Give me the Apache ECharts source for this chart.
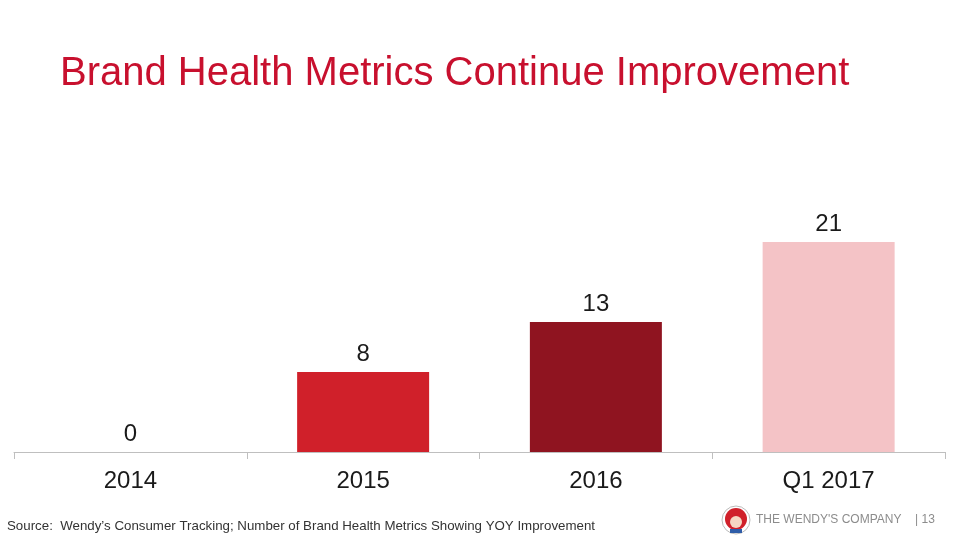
<!DOCTYPE html>
<html><head><meta charset="utf-8">
<script src="https://cdn.jsdelivr.net/npm/echarts@6/dist/echarts.min.js"></script>
<style>html,body{margin:0;padding:0;background:#fff}#c{width:960px;height:540px}</style>
</head><body><div id="c"></div>
<script>
const categories = ['2014', '2015', '2016', 'Q1 2017'];
const values = [0, 8, 13, 21];
const barColors = ['#D0202A', '#D0202A', '#8F1420', '#F4C3C6'];
const titleText = 'Brand Health Metrics Continue Improvement';
const sourceText = 'Source:  Wendy\u2019s Consumer Tracking; Number of Brand Health Metrics Showing YOY Improvement';
const footerText = 'THE WENDY\'S COMPANY';
const pageNum = '| 13';

const chart = echarts.init(document.getElementById('c'), null, {renderer: 'canvas'});
const font = '"Liberation Sans", Arial, sans-serif';
chart.setOption({
  animation: false,
  title: {
    text: titleText, left: 55, top: 49,
    textStyle: {color: '#C8102E', fontSize: 40, fontWeight: 'normal', fontFamily: font}
  },
  grid: {left: 14, right: 15, top: 152, bottom: 88},
  xAxis: {
    type: 'category', data: categories,
    axisLine: {show: true, lineStyle: {color: '#BFBFBF', width: 1}},
    axisTick: {show: true, length: 7, lineStyle: {color: '#BFBFBF'}},
    axisLabel: {color: '#1a1a1a', fontSize: 24, fontFamily: font, margin: 17}
  },
  yAxis: {type: 'value', min: 0, max: 30, show: false, splitLine: {show: false}},
  series: [{
    type: 'bar', barWidth: 132,
    data: values.map((v, i) => ({value: v, itemStyle: {color: barColors[i]}})),
    label: {show: true, position: 'top', distance: 6, color: '#1a1a1a', fontSize: 24, fontFamily: font}
  }],
  graphic: [
    {type: 'text', left: 7, top: 520, style: {text: sourceText, fill: '#333', font: '13.3px ' + font}},
    {type: 'text', left: 756, top: 514, style: {text: footerText, fill: '#8c8c8c', font: '12px ' + font}},
    {type: 'text', left: 915, top: 514, style: {text: pageNum, fill: '#8c8c8c', font: '12px ' + font}},
    {type: 'circle', shape: {cx: 736, cy: 520, r: 14}, style: {fill: '#fff', stroke: '#bbb', lineWidth: 1}},
    {type: 'circle', shape: {cx: 736, cy: 519, r: 11}, style: {fill: '#D0202A'}},
    {type: 'circle', shape: {cx: 736, cy: 522, r: 6}, style: {fill: '#F6D7C3'}},
    {type: 'rect', shape: {x: 730, y: 529, width: 12, height: 4}, style: {fill: '#2F5DA8'}}
  ]
});
</script></body></html>
